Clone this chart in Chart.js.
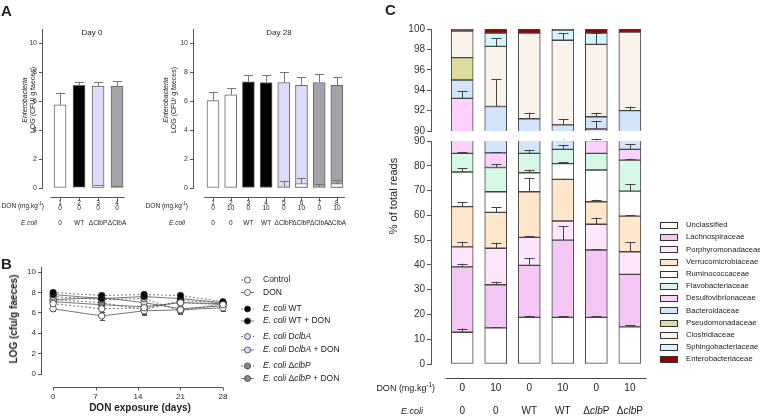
<!DOCTYPE html>
<html><head><meta charset="utf-8">
<script src="https://cdn.jsdelivr.net/npm/chart.js@4.4.1/dist/chart.umd.min.js"></script>
<style>
html,body{margin:0;padding:0;background:#fff}
body{width:760px;height:416px;position:relative;overflow:hidden;font-family:'Liberation Sans',Arial,Helvetica,sans-serif;color:#222}
canvas{position:absolute}
.t{position:absolute;white-space:nowrap;line-height:1}
.c{transform:translate(-50%,-50%)}
.r{transform:translate(-100%,-50%)}
.l{transform:translate(0,-50%)}
.v{transform:translate(-50%,-50%) rotate(-90deg)}
sup{font-size:70%;vertical-align:top;position:relative;top:-0.3em}
</style></head>
<body>
<canvas id="a0" width="140" height="235" style="left:0;top:0"></canvas>
<canvas id="a28" width="215" height="235" style="left:140px;top:0"></canvas>
<canvas id="b" width="360" height="176" style="left:0;top:240px"></canvas>
<canvas id="cUp" width="300" height="140" style="left:360px;top:0"></canvas>
<canvas id="cLo" width="400" height="286" style="left:360px;top:130px"></canvas>

<div class="t l" style="left:1px;top:10px;font-size:15px;font-weight:bold">A</div>
<div class="t c" style="left:92px;top:33px;font-size:8px">Day 0</div>
<div class="t c" style="left:279px;top:33px;font-size:8px">Day 28</div>
<div class="t v" style="left:24px;top:100px;font-size:7px;font-style:italic">Enterobacteria</div>
<div class="t v" style="left:31.5px;top:100px;font-size:7px">LOG (CFU/ g faeces)</div>
<div class="t v" style="left:165px;top:100px;font-size:7px;font-style:italic">Enterobacteria</div>
<div class="t v" style="left:172.5px;top:100px;font-size:7px">LOG (CFU/ g faeces)</div>
<div class="t r" style="left:44px;top:206px;font-size:6.5px">DON (mg.kg<sup>-1</sup>)</div>
<div class="t r" style="left:37px;top:223px;font-size:6.5px;font-style:italic">E.coli</div>
<div class="t r" style="left:188px;top:206px;font-size:6.5px">DON (mg.kg<sup>-1</sup>)</div>
<div class="t r" style="left:185px;top:223px;font-size:6.5px;font-style:italic">E.coli</div>

<div class="t l" style="left:1px;top:263px;font-size:15px;font-weight:bold">B</div>
<div class="t v" style="left:14px;top:319px;font-size:10px;font-weight:bold">LOG (cfu/g faeces)</div>
<div class="t c" style="left:140px;top:408px;font-size:10px;font-weight:bold">DON exposure (days)</div>

<div class="t l" style="left:385px;top:9px;font-size:15px;font-weight:bold">C</div>
<div class="t v" style="left:393px;top:196px;font-size:11px">% of total reads</div>
<div class="t r" style="left:435px;top:388px;font-size:9px">DON (mg.kg<sup>-1</sup>)</div>
<div class="t r" style="left:423px;top:411px;font-size:9px;font-style:italic">E.coli</div>

<script>
// ================= DATA =================
// Panel A, Day 0
const day0Groups = ['1', '2', '3', '4'];
const day0Dose = ['0', '0', '0', '0'];
const day0Ecoli = ['0', 'WT', 'ΔClbP', 'ΔClbA'];
const day0Mean = [5.75, 7.1, 7.05, 7.05];
const day0Err = [0.85, 0.25, 0.25, 0.35];
const day0Low = [0, 0.05, 0.15, 0.1];
const day0LowErr = [0, 0, 0.05, 0.05];

// Panel A, Day 28
const day28Groups = ['1', '2', '3', '4', '5', '6', '7', '8'];
const day28Dose = ['0', '10', '0', '10', '0', '10', '0', '10'];
const day28Ecoli = ['0', '0', 'WT', 'WT', 'ΔClbP', 'ΔClbP', 'ΔClbA', 'ΔClbA'];
const day28Mean = [6.05, 6.45, 7.35, 7.3, 7.3, 7.1, 7.3, 7.1];
const day28Err = [0.6, 0.45, 0.45, 0.5, 0.7, 0.55, 0.6, 0.55];
const day28Low = [0, 0, 0, 0, 0.1, 0.3, 0.1, 0.3];
const day28LowErr = [0, 0, 0, 0, 0.4, 0.4, 0.15, 0.25];

// Panel B
const bDays = [0, 8, 15, 21, 28];
const bTickDays = [0, 7, 14, 21, 28];
const bControl = [6.9, 6.4, 6.5, 7.0, 6.8];
const bControlErr = [0.2, 0.3, 0.3, 0.2, 0.3];
const bDon = [6.4, 5.7, 6.2, 6.3, 6.5];
const bDonErr = [0.2, 0.4, 0.4, 0.3, 0.3];
const bWT = [8.0, 7.7, 7.8, 7.7, 7.1];
const bWTErr = [0.2, 0.2, 0.2, 0.2, 0.2];
const bWTDon = [7.8, 7.4, 7.6, 7.4, 7.0];
const bWTDonErr = [0.2, 0.2, 0.2, 0.2, 0.2];
const bClbA = [7.6, 7.3, 7.4, 6.2, 6.9];
const bClbAErr = [0.2, 0.3, 0.3, 0.3, 0.3];
const bClbADon = [7.3, 7.5, 7.0, 6.4, 6.7];
const bClbADonErr = [0.2, 0.3, 0.3, 0.3, 0.3];
const bClbP = [7.3, 7.0, 6.3, 7.2, 7.0];
const bClbPErr = [0.2, 0.3, 0.4, 0.2, 0.3];
const bClbPDon = [7.1, 6.8, 6.6, 7.0, 6.9];
const bClbPDonErr = [0.2, 0.3, 0.3, 0.2, 0.3];

// Panel C (segment sizes, % of reads)
const cDose = ['0', '10', '0', '10', '0', '10'];
const cEcoli = ['0', '0', 'WT', 'WT', 'ΔclbP', 'ΔclbP'];
const cFamilies = ['Unclassified', 'Lachnospiraceae', 'Porphyromonadaceae', 'Verrucomicrobiaceae',
  'Ruminococcaceae', 'Flavobacteriaceae', 'Desulfovibrionaceae', 'Bacteroidaceae',
  'Pseudomonadaceae', 'Clostridiaceae', 'Sphingobacteriaceae', 'Enterobacteriaceae'];
const cUnclassified       = [12.8, 14.6, 18.8, 18.8, 18.8, 15.0];
const cLachnospiraceae    = [26.4, 17.4, 21.0, 31.2, 27.2, 21.2];
const cPorphyromonadaceae = [8.1, 14.7, 11.3, 7.7, 10.4, 9.1];
const cVerrucomicrobiaceae= [16.2, 14.5, 18.4, 16.8, 9.1, 14.4];
const cRuminococcaceae    = [14.0, 8.3, 7.7, 6.4, 12.8, 10.1];
const cFlavobacteriaceae  = [7.5, 9.8, 7.8, 5.7, 6.7, 12.5];
const cDesulfovibrionaceae= [8.2, 5.9, 0, 0, 5.2, 4.3];
const cBacteroidaceae     = [1.8, 7.2, 6.2, 4.0, 1.2, 5.4];
const cPseudomonadaceae   = [2.2, 0, 0, 0, 0, 0];
const cClostridiaceae     = [2.6, 5.9, 8.4, 8.3, 7.1, 7.7];
const cSphingobacteriaceae= [0, 1.3, 0, 1.0, 1.1, 0];
const cEnterobacteriaceae = [0.2, 0.4, 0.4, 0.1, 0.4, 0.3];
// upward error (SEM) of each segment
const cUnclassifiedErr       = [1.5, 0.3, 0.6, 0.5, 0.4, 0.6];
const cLachnospiraceaeErr    = [1.3, 1.2, 3.0, 5.5, 0.4, 0];
const cPorphyromonadaceaeErr = [2.0, 2.3, 0.5, 0, 2.7, 3.8];
const cVerrucomicrobiaceaeErr= [1.8, 2.0, 5.5, 0.3, 0.8, 0.5];
const cRuminococcaceaeErr    = [1.5, 0, 1.2, 0.6, 0, 2.8];
const cFlavobacteriaceaeErr  = [0.6, 1.4, 1.5, 1.8, 0, 0.6];
const cDesulfovibrionaceaeErr= [0.7, 0.2, 0, 0, 0.8, 2.0];
const cBacteroidaceaeErr     = [0, 2.7, 0.6, 0.6, 0.4, 0.4];
const cPseudomonadaceaeErr   = [0, 0, 0, 0, 0, 0];
const cClostridiaceaeErr     = [0, 0.8, 0, 0.7, 1.1, 0];
const cSphingobacteriaceaeErr= [0, 0, 0, 0, 0, 0];
const cEnterobacteriaceaeErr = [0, 0, 0, 0, 0, 0];

// ================= STYLE =================
const FONT = "'Liberation Sans', Arial, Helvetica, sans-serif";
Chart.defaults.font.family = FONT;
Chart.defaults.color = '#222';
const WHITE = '#ffffff', BLACK = '#000000', LAV = '#dcdcf8', GREY = '#a2a2a8';
const day0Fill = [WHITE, BLACK, LAV, GREY];
const day28Fill = [WHITE, WHITE, BLACK, BLACK, LAV, LAV, GREY, GREY];
const cColors = ['#ffffff', '#f4c6f4', '#fde6fb', '#fde6c9', '#ffffff', '#d6f7e6',
  '#fbd2fb', '#d3e5fa', '#dcdba0', '#f9f3ec', '#d4f6fa', '#990000'];

function rich(ctx, parts, x, y, align, size, bold) {
  if (typeof parts === 'string') parts = [[parts, false]];
  const f = it => (it ? 'italic ' : '') + (bold ? 'bold ' : '') + size + 'px ' + FONT;
  let w = 0;
  parts.forEach(p => { ctx.font = f(p[1]); w += ctx.measureText(p[0]).width; });
  let cx = align === 'center' ? x - w / 2 : align === 'right' ? x - w : x;
  ctx.textAlign = 'left'; ctx.textBaseline = 'middle';
  parts.forEach(p => { ctx.font = f(p[1]); ctx.fillText(p[0], cx, y); cx += ctx.measureText(p[0]).width; });
}
function deltaParts(s) {
  const m = s.match(/^Δ(clb)(.)$/);
  return m ? [['Δ', false], [m[1], true], [m[2], false]] : [[s, false]];
}

function drawErr(chart, o) {
  const { ctx, chartArea: a } = chart;
  const ys = chart.scales.y;
  ctx.save();
  ctx.beginPath(); ctx.rect(a.left, a.top - 2, a.right - a.left, a.bottom - a.top + 2); ctx.clip();
  chart.data.datasets.forEach((ds, di) => {
    if (!ds.errs) return;
    const meta = chart.getDatasetMeta(di);
    if (meta.hidden) return;
    meta.data.forEach((el, i) => {
      const e = ds.errs[i]; if (!e) return;
      const v = ys.getValueForPixel(el.y);
      const yt = ys.getPixelForValue(v + e);
      const x = Math.round(el.x) + 0.5;
      ctx.strokeStyle = ds.errColor || '#444';
      ctx.lineWidth = 1;
      ctx.beginPath();
      ctx.moveTo(x, el.y); ctx.lineTo(x, yt);
      ctx.moveTo(x - o.cap, Math.round(yt) + 0.5); ctx.lineTo(x + o.cap, Math.round(yt) + 0.5);
      if (o.both) {
        const yb = ys.getPixelForValue(v - e);
        ctx.moveTo(x, el.y); ctx.lineTo(x, yb);
        ctx.moveTo(x - o.cap, Math.round(yb) + 0.5); ctx.lineTo(x + o.cap, Math.round(yb) + 0.5);
      }
      ctx.stroke();
    });
  });
  ctx.restore();
}
const errorBars = {
  id: 'errorBars',
  beforeDatasetsDraw(chart, args, o) { if (o && o.cap && o.behind) drawErr(chart, o); },
  afterDatasetsDraw(chart, args, o) { if (o && o.cap && !o.behind) drawErr(chart, o); }
};

const xRows = {
  id: 'xRows',
  afterDraw(chart, args, o) {
    if (!o || !o.line) return;
    const { ctx } = chart; const xs = chart.scales.x;
    ctx.save();
    const L = o.line;
    ctx.strokeStyle = L.color; ctx.lineWidth = 1;
    ctx.beginPath();
    const y = Math.round(L.y) + 0.5;
    ctx.moveTo(xs.getPixelForValue(L.from), y); ctx.lineTo(xs.getPixelForValue(L.to), y);
    (L.ticks || []).forEach(t => {
      const x = Math.round(xs.getPixelForValue(t)) + 0.5;
      ctx.moveTo(x, y); ctx.lineTo(x, y + L.tickLen);
    });
    ctx.stroke();
    ctx.fillStyle = '#222';
    (o.rows || []).forEach(r => {
      r.labels.forEach((lab, i) => {
        rich(ctx, r.rich ? deltaParts(lab) : lab, xs.getPixelForValue(r.at[i]), r.y, 'center', r.size, false);
      });
    });
    ctx.restore();
  }
};

const axisY = (min, max, step, size, W, tickLen) => ({
  min, max,
  ticks: { stepSize: step, includeBounds: false, font: { size }, color: '#333', padding: 2 },
  grid: { drawOnChartArea: false, drawTicks: true, tickLength: tickLen, color: '#555', lineWidth: 1 },
  border: { display: true, color: '#555', width: 1 },
  afterFit(s) { s.width = W; }
});
const base = () => ({ responsive: false, animation: false, devicePixelRatio: 1, events: [] });

// ================= PANEL A =================
function barPanel(id, groups, dose, ecoli, mean, err, low, lowErr, fills, xmin, xmax, W, padRight, lineTo) {
  const xs = groups.map(g => Number(g));
  new Chart(document.getElementById(id), {
    type: 'bar',
    data: {
      datasets: [
        { data: xs.map((x, i) => ({ x, y: low[i] })), backgroundColor: WHITE, borderColor: '#777',
          borderWidth: 1, borderSkipped: false, barThickness: 12, grouped: false, order: 0,
          errs: lowErr, errColor: '#777' },
        { data: xs.map((x, i) => ({ x, y: mean[i] })), backgroundColor: fills, borderColor: '#666',
          borderWidth: 1, borderSkipped: false, barThickness: 12, grouped: false, order: 1,
          errs: err, errColor: '#777' }
      ]
    },
    options: Object.assign(base(), {
      layout: { padding: { top: 29, bottom: 47, left: 0, right: padRight } },
      plugins: {
        legend: { display: false }, tooltip: { enabled: false },
        errorBars: { cap: 4.5 },
        xRows: {
          line: { y: 197, from: 0.5, to: lineTo, color: '#555', ticks: xs, tickLen: 3 },
          rows: [
            { y: 203.5, labels: groups, at: xs, size: 6.5 },
            { y: 208.5, labels: dose, at: xs, size: 6.5 },
            { y: 223, labels: ecoli, at: xs, size: 6.5 }
          ]
        }
      },
      scales: {
        x: { type: 'linear', min: xmin, max: xmax, offset: false, display: false },
        y: axisY(0, 11, 2, 7, W, 3)
      }
    }),
    plugins: [errorBars, xRows]
  });
}
barPanel('a0', day0Groups, day0Dose, day0Ecoli, day0Mean, day0Err, day0Low, day0LowErr, day0Fill, 0.05, 4.65, 42, 10.6, 4.4);
barPanel('a28', day28Groups, day28Dose, day28Ecoli, day28Mean, day28Err, day28Low, day28LowErr, day28Fill, -0.13, 8.6, 53, 7.5, 8.45);

// ================= PANEL B =================
const bSeries = [bControl, bDon, bWT, bWTDon, bClbA, bClbADon, bClbP, bClbPDon];
const bErrs = [bControlErr, bDonErr, bWTErr, bWTDonErr, bClbAErr, bClbADonErr, bClbPErr, bClbPDonErr];
const bLegend = [
  [['Control', false]],
  [['DON', false]],
  [['E. coli', true], [' WT', false]],
  [['E. coli', true], [' WT + DON', false]],
  [['E. coli', true], [' D', false], ['clbA', true]],
  [['E. coli', true], [' D', false], ['clbA', true], [' + DON', false]],
  [['E. coli', true], [' Δ', false], ['clbP', true]],
  [['E. coli', true], [' Δ', false], ['clbP', true], [' + DON', false]]
];
const bFill = [WHITE, WHITE, BLACK, BLACK, LAV, LAV, '#8a8a8a', '#8a8a8a'];
const bDash = [[2, 2], [], [2, 2], [], [2, 2], [], [2, 2], []];
const bLegendY = [280, 292.5, 309, 321, 336.5, 350, 366, 378.5];

const bLegendPlugin = {
  id: 'bLegend',
  afterDraw(chart) {
    const { ctx } = chart; const oy = 240;
    ctx.save();
    bLegend.forEach((parts, i) => {
      const y = bLegendY[i] - oy;
      ctx.strokeStyle = '#555'; ctx.lineWidth = 0.8; ctx.setLineDash(bDash[i]);
      ctx.beginPath(); ctx.moveTo(241, y); ctx.lineTo(254, y); ctx.stroke();
      ctx.setLineDash([]);
      ctx.fillStyle = bFill[i]; ctx.strokeStyle = '#333';
      ctx.beginPath(); ctx.arc(247.5, y, 3, 0, Math.PI * 2); ctx.fill(); ctx.stroke();
      ctx.fillStyle = '#222';
      rich(ctx, parts, 263, y, 'left', 8.5, false);
    });
    ctx.restore();
  }
};

new Chart(document.getElementById('b'), {
  type: 'line',
  data: {
    datasets: bSeries.map((vals, k) => ({
      data: bDays.map((d, i) => ({ x: d, y: vals[i] })),
      borderColor: '#555', borderWidth: 0.8, borderDash: bDash[k],
      pointRadius: 3.2, pointBackgroundColor: bFill[k], pointBorderColor: '#333', pointBorderWidth: 0.8,
      tension: 0, fill: false, errs: bErrs[k], errColor: '#555', clip: 5
    }))
  },
  options: Object.assign(base(), {
    layout: { padding: { top: 27, bottom: 42, left: 0, right: 131 } },
    plugins: {
      legend: { display: false }, tooltip: { enabled: false },
      errorBars: { cap: 2.5, both: true, behind: true },
      xRows: {
        line: { y: 147, from: 0, to: 28, color: '#555', ticks: bTickDays, tickLen: 3 },
        rows: [{ y: 157, labels: bTickDays.map(String), at: bTickDays, size: 8 }]
      }
    },
    scales: {
      x: { type: 'linear', min: -2, max: 29, offset: false, display: false },
      y: axisY(0, 10.5, 2, 8, 41, 3)
    }
  }),
  plugins: [errorBars, xRows, bLegendPlugin]
});

// ================= PANEL C =================
const cSegments = [cUnclassified, cLachnospiraceae, cPorphyromonadaceae, cVerrucomicrobiaceae,
  cRuminococcaceae, cFlavobacteriaceae, cDesulfovibrionaceae, cBacteroidaceae,
  cPseudomonadaceae, cClostridiaceae, cSphingobacteriaceae, cEnterobacteriaceae];
const cErrs = [cUnclassifiedErr, cLachnospiraceaeErr, cPorphyromonadaceaeErr, cVerrucomicrobiaceaeErr,
  cRuminococcaceaeErr, cFlavobacteriaceaeErr, cDesulfovibrionaceaeErr, cBacteroidaceaeErr,
  cPseudomonadaceaeErr, cClostridiaceaeErr, cSphingobacteriaceaeErr, cEnterobacteriaceaeErr];
const cX = cDose.map((_, i) => i + 1);

const cDatasets = () => cSegments.map((vals, k) => ({
  label: cFamilies[k],
  data: cX.map((x, i) => ({ x, y: vals[i] })),
  backgroundColor: cColors[k], borderColor: '#444', borderWidth: 1, borderSkipped: false,
  barThickness: 22, stack: 's', clip: 0, errs: cErrs[k], errColor: '#444'
}));

const cLegendPlugin = {
  id: 'cLegend',
  afterDraw(chart) {
    const { ctx } = chart; const ox = 360, oy = 130;
    ctx.save();
    cFamilies.forEach((name, i) => {
      const y = 225 + 12.2 * i - oy;
      ctx.fillStyle = cColors[i]; ctx.strokeStyle = '#333'; ctx.lineWidth = 1;
      ctx.fillRect(660.5 - ox, Math.round(y - 3) + 0.5, 17, 6);
      ctx.strokeRect(660.5 - ox, Math.round(y - 3) + 0.5, 17, 6);
      ctx.fillStyle = '#222';
      rich(ctx, name, 686 - ox, y, 'left', 7.7, false);
    });
    ctx.restore();
  }
};

new Chart(document.getElementById('cUp'), {
  type: 'bar',
  data: { datasets: cDatasets() },
  options: Object.assign(base(), {
    layout: { padding: { top: 29, bottom: 9, left: 0, right: 10 } },
    plugins: { legend: { display: false }, tooltip: { enabled: false }, errorBars: { cap: 5 } },
    scales: {
      x: { type: 'linear', min: 0.07, max: 6.6, offset: false, display: false, stacked: true },
      y: Object.assign(axisY(90, 100, 2, 10, 71, 4), { stacked: true })
    }
  }),
  plugins: [errorBars]
});

new Chart(document.getElementById('cLo'), {
  type: 'bar',
  data: { datasets: cDatasets() },
  options: Object.assign(base(), {
    layout: { padding: { top: 11, bottom: 52, left: 0, right: 110 } },
    plugins: {
      legend: { display: false }, tooltip: { enabled: false }, errorBars: { cap: 5 },
      xRows: {
        line: { y: 248, from: 0.5, to: 6.5, color: '#444', ticks: [], tickLen: 0 },
        rows: [
          { y: 258, labels: cDose, at: cX, size: 10 },
          { y: 281, labels: cEcoli, at: cX, size: 10, rich: true }
        ]
      }
    },
    scales: {
      x: { type: 'linear', min: 0.07, max: 6.6, offset: false, display: false, stacked: true },
      y: Object.assign(axisY(0, 90, 10, 10, 71, 4), { stacked: true })
    }
  }),
  plugins: [errorBars, xRows, cLegendPlugin]
});
</script>
</body></html>
